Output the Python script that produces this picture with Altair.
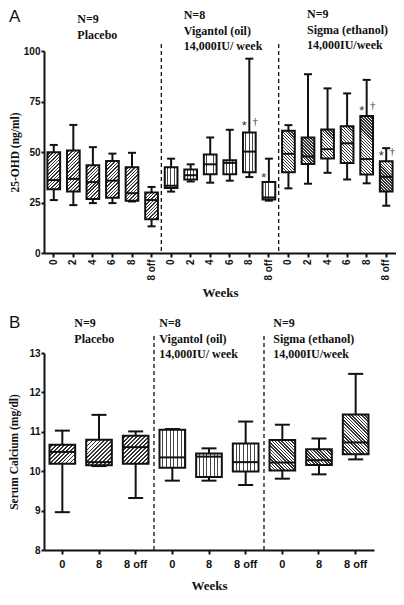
import math
import altair as alt
import pandas as pd

# ---------------- data ----------------
groups = ["Placebo", "Vigantol", "Sigma"]
weeks_a = ["0", "2", "4", "6", "8", "8 off"]
weeks_b = ["0", "8", "8 off"]

# Panel A: 25-OHD (ng/ml), order Placebo(6) | Vigantol(6) | Sigma(6)
a_lo  = [26.2, 23.7, 24.7, 24.7, 25.5, 13.2,  30.4, 35.4, 34.8, 35.8, 37.6, 25.9,  32.0, 34.3, 39.7, 36.4, 34.5, 23.4]
a_q1  = [31.5, 30.4, 26.7, 27.3, 25.9, 16.7,  32.2, 36.4, 39.0, 39.0, 40.0, 26.5,  40.0, 44.0, 46.8, 44.6, 38.9, 30.4]
a_med = [36.1, 36.7, 35.1, 35.8, 29.6, 26.2,  33.3, 38.5, 43.9, 44.6, 50.2, 27.5,  49.1, 47.8, 51.4, 54.3, 46.5, 37.7]
a_q3  = [49.9, 50.7, 43.4, 45.5, 42.4, 29.9,  42.4, 41.3, 48.8, 45.9, 59.7, 35.2,  60.5, 57.2, 61.1, 62.8, 67.8, 45.4]
a_hi  = [53.5, 63.4, 52.4, 49.2, 49.6, 32.7,  46.7, 43.9, 57.2, 61.0, 96.2, 46.7,  63.3, 88.5, 81.5, 79.0, 85.7, 51.9]

# Panel B: Serum Calcium (mg/dl), order Placebo(3) | Vigantol(3) | Sigma(3)
b_lo  = [8.96, 10.13, 9.32,  9.76, 9.76, 9.65,  9.81, 9.92, 10.30]
b_q1  = [10.19, 10.15, 10.19,  10.09, 9.85, 9.99,  10.02, 10.16, 10.43]
b_med = [10.49, 10.23, 10.61,  10.35, 10.37, 10.23,  10.22, 10.28, 10.73]
b_q3  = [10.67, 10.80, 10.90,  11.05, 10.45, 10.70,  10.79, 10.56, 11.44]
b_hi  = [11.03, 11.43, 11.01,  11.07, 10.58, 11.26,  11.18, 10.83, 12.47]

group_lines_a = {"Placebo": ["N=9", "Placebo"],
                 "Vigantol": ["N=8", "Vigantol (oil)", "14,000IU/ week"],
                 "Sigma": ["N=9", "Sigma (ethanol)", "14,000IU/week"]}
group_lines_b = group_lines_a

# significance marks in panel A: (group, week, y)
star_keys = [("Vigantol", "8", 63.0), ("Vigantol", "8 off", 37.0), ("Sigma", "8", 70.5), ("Sigma", "8 off", 48.0)]
dagger_keys = [("Vigantol", "8", 65.0), ("Sigma", "8", 73.0), ("Sigma", "8 off", 50.0)]

# ---------------- layout / style ----------------
WA, HA = 352, 202
WB, HB = 330, 197
BLACK = "#111111"
SANS = "Liberation Sans"
SERIF = "Liberation Serif"
hatch_kind = {"Placebo": "/", "Vigantol": "v", "Sigma": "\\"}


def hatch(kind, w, h, s, f, ink):
    if kind == "v":
        x1, y1, x2, y2 = 0, 0, 1, 0
        L = w
    else:
        k = (w + h) / (w * w + h * h)
        if kind == "/":
            x1, y1, x2, y2 = 0, 0, k * w, k * h
        else:
            x1, y1, x2, y2 = 0, 1, k * w, 1 - k * h
        L = (w + h) / math.sqrt(2)
    n = max(L / s, 1.0)
    stops = []
    i = 0
    while i / n < 1:
        a = i / n
        m = min((i + 1 - f) / n, 1.0)
        e = min((i + 1) / n, 1.0)
        stops += [(a, "white"), (m, "white"), (m, ink), (e, ink)]
        i += 1
    return {"gradient": "linear", "x1": round(x1, 4), "y1": round(y1, 4),
            "x2": round(x2, 4), "y2": round(y2, 4),
            "stops": [{"offset": round(o, 4), "color": c} for o, c in stops]}


def make_df(weeks, lo, q1, med, q3, hi):
    rows = []
    i = 0
    for g in groups:
        for w in weeks:
            rows.append({"key": f"{g}|{w}", "group": g, "week": w,
                         "lo": lo[i], "q1": q1[i], "med": med[i], "q3": q3[i], "hi": hi[i]})
            i += 1
    return pd.DataFrame(rows)


def panel(df, W, H, ydom, yvals, ytitle, bw, cap, hatch_style, sep_top, xaxis, yaxis_extra,
          lines, text_top, text_anchor, text_dx, label, label_y, annotate=False):
    keys = list(df["key"])
    span = ydom[1] - ydom[0]
    conds = []
    for _, r in df.iterrows():
        h = max((r["q3"] - r["q1"]) * H / span, 1.0)
        s, f, ink = hatch_style[hatch_kind[r["group"]]]
        conds.append({"test": f"datum.key === '{r['key']}'",
                      "value": hatch(hatch_kind[r["group"]], bw, h, s, f, ink)})
    fill = {"condition": conds, "value": "white"}

    xscale = alt.Scale(domain=keys, paddingInner=0, paddingOuter=0)
    X = alt.X("key:N", scale=xscale, sort=keys, axis=xaxis)
    yscale = alt.Scale(domain=ydom, nice=False, zero=False)
    yaxis = alt.Axis(values=yvals, title=ytitle, labelOverlap=False, **yaxis_extra)

    def Y(field):
        return alt.Y(field, scale=yscale, axis=yaxis)

    base = alt.Chart(df)
    whisk = base.mark_rule(color=BLACK, strokeWidth=2).encode(x=X, y=Y("lo:Q"), y2="hi:Q")
    cap_hi = base.mark_tick(color=BLACK, size=cap, thickness=2, opacity=1).encode(x=X, y=Y("hi:Q"))
    cap_lo = base.mark_tick(color=BLACK, size=cap, thickness=2, opacity=1).encode(x=X, y=Y("lo:Q"))
    box = base.mark_bar(width=bw, stroke=BLACK, strokeWidth=2).encode(
        x=X, y=Y("q1:Q"), y2="q3:Q", fill=fill)
    med = base.mark_tick(color=BLACK, size=bw, thickness=2, opacity=1).encode(x=X, y=Y("med:Q"))

    sep_df = pd.DataFrame({"key": [f"{g}|{df['week'].iloc[-1]}" for g in groups[:-1]],
                           "top": [sep_top] * 2, "bot": [ydom[0]] * 2})
    sep = alt.Chart(sep_df).mark_rule(color=BLACK, strokeWidth=1.3, strokeDash=[4, 3]).encode(
        x=alt.X("key:N", scale=xscale, sort=keys, axis=xaxis, bandPosition=1),
        y=Y("top:Q"), y2="bot:Q")

    layers = [whisk, cap_hi, cap_lo, box, med, sep]

    for g in groups:
        tdf = pd.DataFrame({"key": [f"{g}|{text_anchor[g]}"]})
        layers.append(alt.Chart(tdf).mark_text(
            text=lines[g], align="left", baseline="top", lineHeight=15.5,
            font=SERIF, fontWeight="bold", fontSize=12, color=BLACK, dx=text_dx[g]
        ).encode(x=X, y=alt.value(text_top[g])))

    if annotate:
        sdf = pd.DataFrame({"key": [f"{g}|{w}" for g, w, _ in star_keys],
                            "y": [v for _, _, v in star_keys]})
        ddf = pd.DataFrame({"key": [f"{g}|{w}" for g, w, _ in dagger_keys],
                            "y": [v for _, _, v in dagger_keys]})
        layers.append(alt.Chart(sdf).mark_text(
            text="*", font=SANS, fontSize=13, color="#333333", dx=-5, baseline="middle"
        ).encode(x=X, y=Y("y:Q")))
        layers.append(alt.Chart(ddf).mark_text(
            text="\u2020", font=SERIF, fontSize=11, color="#333333", dx=6, baseline="middle"
        ).encode(x=X, y=Y("y:Q")))

    layers.append(alt.Chart(pd.DataFrame({"k": [0]})).mark_text(
        text=label, font=SANS, fontSize=17, color=BLACK, align="left", baseline="top"
    ).encode(x=alt.value(-35), y=alt.value(label_y)))

    return alt.layer(*layers).properties(width=W, height=H)


df_a = make_df(weeks_a, a_lo, a_q1, a_med, a_q3, a_hi)
df_b = make_df(weeks_b, b_lo, b_q1, b_med, b_q3, b_hi)

xaxis_a = alt.Axis(title="Weeks", labelAngle=270, labelFontSize=10, tickSize=4,
                   labelPadding=2, titleFontSize=13, titlePadding=6,
                   labelExpr="split(datum.value, '|')[1]")
xaxis_b = alt.Axis(title="Weeks", labelAngle=0, labelFontSize=11, tickSize=4,
                   labelPadding=4, titleFontSize=13, titlePadding=10,
                   labelExpr="split(datum.value, '|')[1]")

bwA = 0.65 * WA / 18
bwB = 0.70 * WB / 9

chart_a = panel(
    df_a, WA, HA, [0, 100], [0, 25, 50, 75, 100], "25-OHD (ng/ml)", bwA, 8,
    {"/": (2.4, 0.42, "#333333"), "v": (3.3, 0.28, "#444444"), "\\": (2.1, 0.48, "#333333")},
    103.5, xaxis_a,
    dict(tickSize=3, labelPadding=1, labelFontSize=10, titleFontSize=11.5, titlePadding=3),
    group_lines_a,
    {"Placebo": -37, "Vigantol": -41, "Sigma": -42},
    {"Placebo": "2", "Vigantol": "2", "Sigma": "2"},
    {"Placebo": 4, "Vigantol": -7, "Sigma": -1},
    "A", -42, annotate=True)

chart_b = panel(
    df_b, WB, HB, [8, 13], [8, 9, 10, 11, 12, 13], "Serum Calcium (mg/dl)", bwB, 15,
    {"/": (2.8, 0.42, "#333333"), "v": (3.7, 0.26, "#444444"), "\\": (2.3, 0.48, "#333333")},
    13.43, xaxis_b,
    dict(tickSize=3, labelPadding=1, labelFontSize=10, titleFontSize=11.5, titlePadding=9),
    group_lines_b,
    {"Placebo": -35, "Vigantol": -35, "Sigma": -35},
    {"Placebo": "0", "Vigantol": "0", "Sigma": "0"},
    {"Placebo": 12, "Vigantol": -13, "Sigma": -9},
    "B", -38)

chart = alt.vconcat(chart_a, chart_b, spacing=14).properties(padding=0).configure_view(
    stroke=None
).configure_axis(
    grid=False, domainColor=BLACK, domainWidth=2, tickColor=BLACK, tickWidth=2,
    labelColor=BLACK, labelFont=SANS, labelFontWeight="bold", labelOverlap=False,
    titleColor=BLACK, titleFont=SERIF, titleFontWeight="bold"
)

chart.save("out.html", embed_options={"renderer": "svg", "actions": False})
